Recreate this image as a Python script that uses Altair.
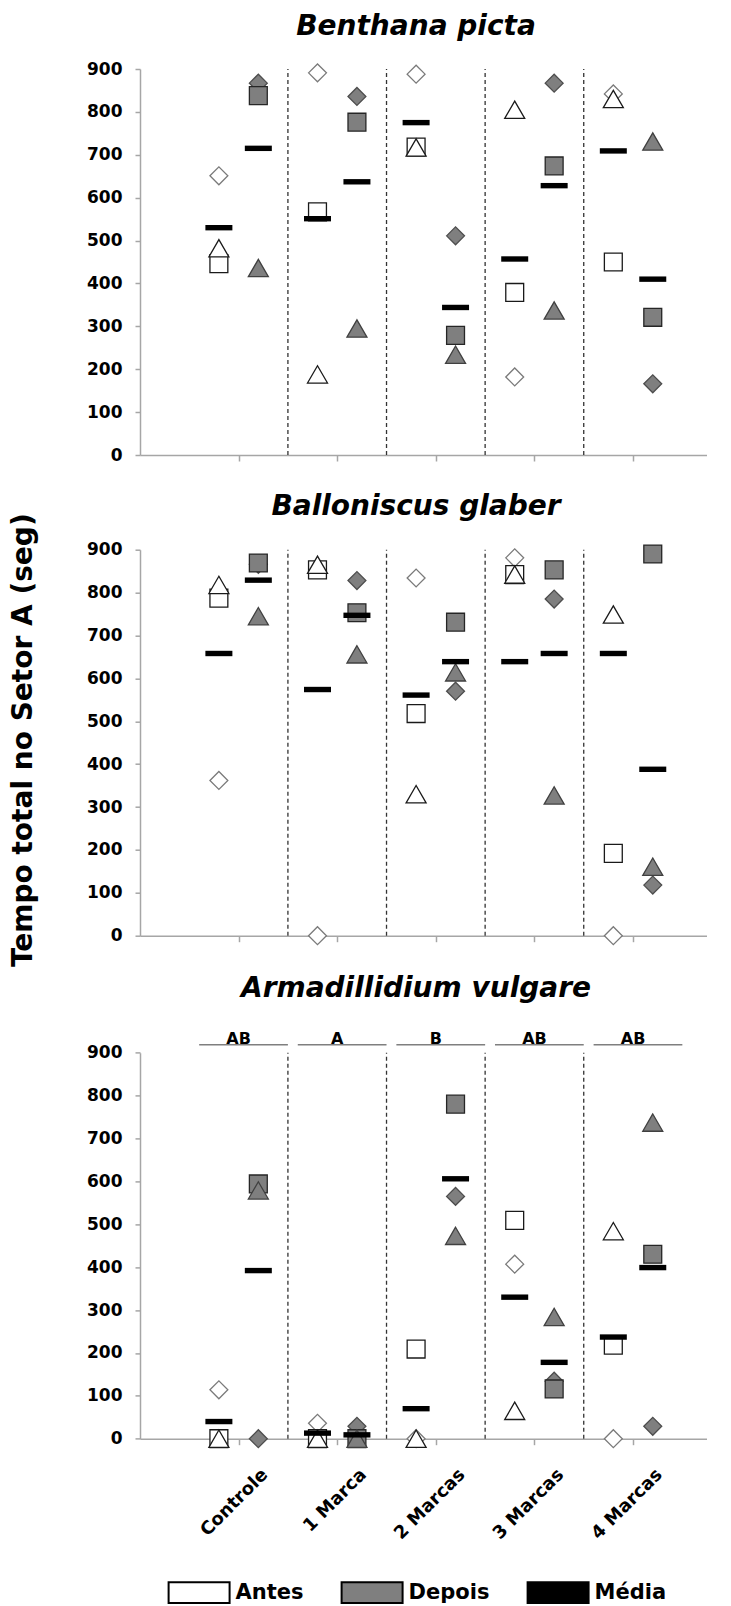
import altair as alt
import pandas as pd

species = ["Benthana picta", "Balloniscus glaber", "Armadillidium vulgare"]
categories = ["Controle", "1 Marca", "2 Marcas", "3 Marcas", "4 Marcas"]
phases = ["Antes", "Depois"]
replicates = ["diamond", "square", "triangle"]
letters = ["AB", "A", "B", "AB", "AB"]
y_ticks = [0, 100, 200, 300, 400, 500, 600, 700, 800, 900]

# Benthana picta
bp_antes_diamond = [651, 891, 888, 182, 842]
bp_antes_square = [446, 567, 718, 379, 450]
bp_antes_triangle = [482, 188, 717, 805, 830]
bp_depois_diamond = [867, 836, 511, 867, 166]
bp_depois_square = [838, 776, 279, 674, 321]
bp_depois_triangle = [436, 295, 234, 337, 731]
bp_mean_antes = [530, 551, 775, 457, 709]
bp_mean_depois = [715, 637, 344, 628, 410]

# Balloniscus glaber
bg_antes_diamond = [362, 0, 834, 881, 0]
bg_antes_square = [787, 853, 518, 842, 192]
bg_antes_triangle = [818, 865, 330, 842, 749]
bg_depois_diamond = [866, 828, 570, 785, 118]
bg_depois_square = [869, 753, 731, 853, 890]
bg_depois_triangle = [745, 656, 614, 327, 161]
bg_mean_antes = [658, 574, 561, 639, 658]
bg_mean_depois = [829, 747, 639, 658, 388]

# Armadillidium vulgare
av_antes_diamond = [114, 36, 0, 407, 0]
av_antes_square = [0, 0, 209, 509, 218]
av_antes_triangle = [0, 0, 0, 65, 484]
av_depois_diamond = [0, 29, 565, 134, 29]
av_depois_square = [594, 0, 780, 116, 430]
av_depois_triangle = [579, 0, 473, 284, 737]
av_mean_antes = [40, 13, 70, 330, 237]
av_mean_depois = [392, 9, 606, 178, 399]

points_src = {
    "Benthana picta": {
        ("Antes", "diamond"): bp_antes_diamond, ("Antes", "square"): bp_antes_square,
        ("Antes", "triangle"): bp_antes_triangle, ("Depois", "diamond"): bp_depois_diamond,
        ("Depois", "square"): bp_depois_square, ("Depois", "triangle"): bp_depois_triangle,
    },
    "Balloniscus glaber": {
        ("Antes", "diamond"): bg_antes_diamond, ("Antes", "square"): bg_antes_square,
        ("Antes", "triangle"): bg_antes_triangle, ("Depois", "diamond"): bg_depois_diamond,
        ("Depois", "square"): bg_depois_square, ("Depois", "triangle"): bg_depois_triangle,
    },
    "Armadillidium vulgare": {
        ("Antes", "diamond"): av_antes_diamond, ("Antes", "square"): av_antes_square,
        ("Antes", "triangle"): av_antes_triangle, ("Depois", "diamond"): av_depois_diamond,
        ("Depois", "square"): av_depois_square, ("Depois", "triangle"): av_depois_triangle,
    },
}
means_src = {
    "Benthana picta": {"Antes": bp_mean_antes, "Depois": bp_mean_depois},
    "Balloniscus glaber": {"Antes": bg_mean_antes, "Depois": bg_mean_depois},
    "Armadillidium vulgare": {"Antes": av_mean_antes, "Depois": av_mean_depois},
}

# styles
GRAY = "#7f7f7f"
AXIS_GRAY = "#a6a6a6"
FONT = "DejaVu Sans"
stroke_style = {
    ("Antes", "diamond"): "#7a7a7a", ("Antes", "square"): "#1a1a1a", ("Antes", "triangle"): "#1a1a1a",
    ("Depois", "diamond"): "#4d4d4d", ("Depois", "square"): "#262626", ("Depois", "triangle"): "#404040",
}

rows = []
for sp, d in points_src.items():
    for (ph, rep), vals in d.items():
        for i, v in enumerate(vals):
            rows.append({"species": sp, "cat": i, "phase": ph, "rep": rep,
                         "value": v, "stroke": stroke_style[(ph, rep)]})
pts = pd.DataFrame(rows)

mrows = []
for sp, d in means_src.items():
    for ph, vals in d.items():
        for i, v in enumerate(vals):
            mrows.append({"species": sp, "cat": i, "phase": ph, "value": v, "kind": "Média"})
means = pd.DataFrame(mrows)

bounds_df = pd.DataFrame({"cat": list(range(len(categories) - 1))})
letters_df = pd.DataFrame({"cat": list(range(len(categories))), "letter": letters})

fill_scale = alt.Scale(domain=["Antes", "Depois", "Média"], range=["white", GRAY, "black"])
legend = alt.Legend(
    title=None, orient="none", direction="horizontal",
    legendX=45.6, legendY=1510,
    symbolType="M-2.5,-0.85H2.5V0.85H-2.5Z", symbolSize=595,
    symbolStrokeColor="black", symbolStrokeWidth=2, symbolOpacity=1,
    labelFont=FONT, labelFontSize=21, labelFontWeight="bold", labelColor="black",
    labelOffset=23, columnPadding=34,
)
label_expr = "[" + ",".join("'" + c + "'" for c in categories) + "][datum.value]"
XPOS = "datum.cat + (datum.phase == 'Antes' ? -0.2 : 0.2)"

PANEL_W = 567
PANEL_H = 386
TITLE_OFFSETS = [-2.5, -30.2, 5.5]


def panel(idx):
    sp = species[idx]
    last = idx == len(species) - 1
    extra = 22.3 if last else 0
    h = PANEL_H + extra
    if last:
        yscale = alt.Scale(domain=[0, 900], nice=False, zero=True, range=[h, extra])
    else:
        yscale = alt.Scale(domain=[0, 900], nice=False, zero=True)
    xscale = alt.Scale(domain=[-1, 4.75], nice=False, zero=False)

    xaxis = alt.Axis(values=[0, 1, 2, 3, 4], tickSize=6, grid=False, title=None,
                     domainColor=AXIS_GRAY, tickColor=AXIS_GRAY, domainWidth=1.5, tickWidth=1.5,
                     labels=last, labelExpr=label_expr, labelAngle=315, labelAlign="right",
                     labelBaseline="middle", labelOffset=26, labelPadding=27,
                     labelFontSize=18, labelFontWeight="bold", labelFont=FONT, labelColor="black")
    ykw = dict(values=y_ticks, tickSize=5, grid=False, labelPadding=13, labelFontSize=17,
               labelFontWeight="bold", labelFont=FONT, labelColor="black",
               domainColor=AXIS_GRAY, tickColor=AXIS_GRAY, domainWidth=1.5, tickWidth=1.5)
    if idx == 1:
        yaxis = alt.Axis(title="Tempo total no Setor A (seg)", titleFontSize=28, titleFont=FONT,
                         titleFontWeight="bold", titleColor="black", titleX=-103, titleY=190,
                         titleBaseline="bottom", titleAngle=270, **ykw)
    else:
        yaxis = alt.Axis(title=None, **ykw)

    sep = alt.Chart(bounds_df).transform_calculate(
        xpos="datum.cat + 0.5", y0="0", y1="900"
    ).mark_rule(color="#333333", strokeDash=[4, 3], strokeWidth=1.3).encode(
        x=alt.X("xpos:Q", scale=xscale, axis=xaxis),
        y=alt.Y("y0:Q", scale=yscale, axis=yaxis),
        y2="y1:Q",
    )

    base_pts = alt.Chart(pts[pts.species == sp]).transform_calculate(xpos=XPOS)
    layers = [sep]
    shape_sizes = {"diamond": ("diamond", 320), "square": ("square", 320), "triangle": ("triangle-up", 400)}
    for rep in replicates:
        shp, sz = shape_sizes[rep]
        lyr = base_pts.transform_filter(alt.datum.rep == rep).mark_point(
            shape=shp, size=sz, filled=True, strokeWidth=1.3, opacity=1
        ).encode(
            x=alt.X("xpos:Q", scale=xscale),
            y=alt.Y("value:Q", scale=yscale),
            fill=alt.Fill("phase:N", scale=fill_scale, legend=legend),
            stroke=alt.Stroke("stroke:N", scale=None),
        )
        layers.append(lyr)

    mean_layer = alt.Chart(means[means.species == sp]).transform_calculate(xpos=XPOS).mark_point(
        shape="M-1,-0.2H1V0.2H-1Z", size=729, filled=True, opacity=1, strokeWidth=0
    ).encode(
        x=alt.X("xpos:Q", scale=xscale),
        y=alt.Y("value:Q", scale=yscale),
        fill=alt.Fill("kind:N", scale=fill_scale, legend=legend),
    )
    layers.append(mean_layer)

    if last:
        ln = alt.Chart(letters_df).transform_calculate(
            xpos="datum.cat - 0.4", xend="datum.cat + 0.5"
        ).mark_rule(color="#7f7f7f", strokeWidth=1.5).encode(
            x=alt.X("xpos:Q", scale=xscale), x2="xend:Q", y=alt.value(extra - 8)
        )
        tx = alt.Chart(letters_df).transform_calculate(xpos="datum.cat").mark_text(
            font=FONT, fontSize=16, fontWeight="bold", baseline="alphabetic", color="black"
        ).encode(x=alt.X("xpos:Q", scale=xscale), y=alt.value(extra - 9), text="letter:N")
        layers += [ln, tx]

    return alt.layer(*layers).properties(
        width=PANEL_W, height=h,
        title=alt.TitleParams(sp, font=FONT, fontSize=28, fontWeight="bold", fontStyle="italic",
                              anchor="middle", frame="group", baseline="alphabetic",
                              offset=TITLE_OFFSETS[idx], dx=-7.5, color="black"),
    )


chart = alt.vconcat(panel(0), panel(1), panel(2), spacing=94.7, bounds="flush").properties(
    padding={"left": 8, "top": 12, "right": 0, "bottom": 0}
).configure(background="white").configure_view(stroke="transparent", strokeWidth=0)

chart.save("out.html", embed_options={"renderer": "svg", "actions": False})
